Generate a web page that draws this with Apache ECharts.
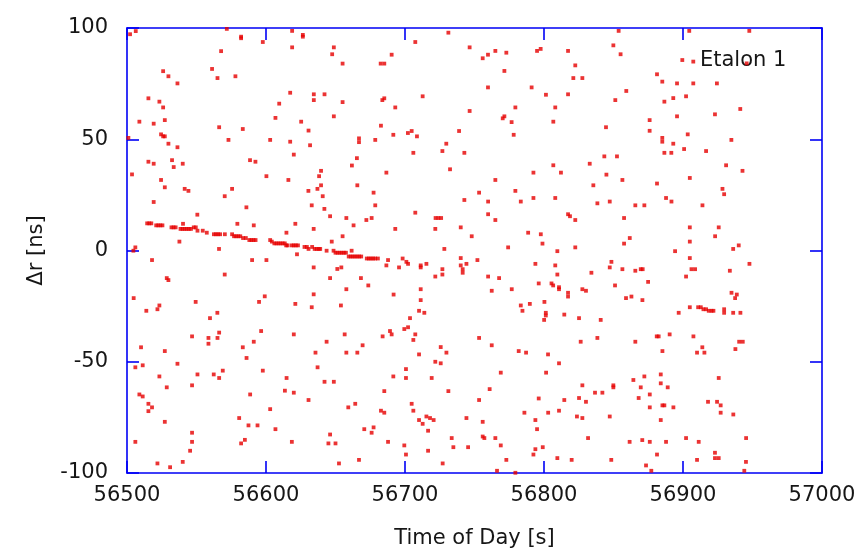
<!DOCTYPE html>
<html>
<head>
<meta charset="utf-8">
<script src="https://cdn.jsdelivr.net/npm/echarts@6/dist/echarts.min.js"></script>
<style>
  html, body { margin: 0; padding: 0; background: #fff; }
  #chart { width: 859px; height: 555px; }
</style>
</head>
<body>
<div id="chart"></div>
<script>
// Etalon 1 range residuals, [time of day (s), delta r (ns)]
const xTicks = [56500, 57000, 100]
const yTicks = [-100, 100, 50]

// scattered returns (noise)
const noiseUpper = [
  [56502.2,97.2],[56506.3,98.6],[56571.8,99.6],[56582.1,96.1],[56582.1,95.4],[56597.7,93.7],[56618.8,98.7],[56626.5,96.9],[56626.5,96.1],[56618.8,91.3],[56648.8,91.3],[56647.6,88.2],[56567.7,89.6],[56526.0,80.6],[56529.8,78.3],[56536.3,75.1],[56561.2,81.6],[56565.1,77.5],[56578.0,78.3],[56499.6,68.4],[56515.4,68.4],[56523.3,66.9],[56526.0,64.3],[56617.4,70.9],[56634.4,70.2],[56642.1,70.2],[56634.4,67.6],[56609.5,66.0],[56648.8,60.3],[56508.9,57.9],[56519.2,57.0],[56527.2,58.6],[56566.3,55.4],[56583.3,54.6],[56606.8,59.6],[56625.3,57.9],[56630.6,53.9],[56524.5,52.2],[56526.0,51.3],[56527.2,51.3],[56501.0,50.6],[56529.8,48.0],[56536.3,46.4],[56573.0,49.7],[56603.0,49.7],[56617.4,48.9],[56631.7,47.3],[56620.0,43.1],[56515.4,39.9],[56519.2,39.0],[56532.4,40.6],[56533.6,37.5],[56540.1,39.0],[56588.5,40.6],[56592.4,39.9],
  [56731.2,97.9],[56707.4,93.7],[56746.5,91.3],[56690.4,88.0],[56655.1,84.0],[56682.5,84.0],[56685.1,84.0],[56755.9,86.4],[56759.7,88.0],[56765.0,89.7],[56772.9,88.9],[56771.5,80.7],[56795.0,89.7],[56797.6,90.6],[56759.7,73.3],[56791.1,73.3],[56801.4,70.0],[56655.1,66.7],[56683.7,67.6],[56685.1,68.4],[56693.0,64.3],[56712.7,69.3],[56746.5,62.7],[56779.4,64.3],[56771.5,60.3],[56770.3,59.4],[56776.7,57.7],[56682.7,56.1],[56666.9,50.4],[56666.9,48.7],[56678.6,49.7],[56691.6,52.0],[56702.1,52.8],[56704.8,53.7],[56708.6,51.3],[56738.9,53.7],[56778.2,52.0],[56729.7,48.0],[56726.9,44.7],[56742.7,43.9],[56706.0,43.9],[56665.4,41.5],[56661.8,38.2],[56732.4,36.5],
  [56853.7,98.7],[56904.5,98.7],[56947.7,98.7],[56849.9,92.2],[56855.1,88.2],[56817.3,89.7],[56822.5,83.2],[56821.1,77.5],[56827.6,77.5],[56817.3,70.2],[56808.1,64.3],[56806.7,57.9],[56859.2,71.7],[56851.3,67.6],[56844.6,55.4],[56899.5,85.6],[56907.4,84.9],[56881.3,79.2],[56885.1,75.9],[56895.7,75.1],[56907.4,75.1],[56924.4,75.1],[56902.2,69.3],[56893.0,68.5],[56886.6,66.9],[56941.2,63.6],[56923.0,61.2],[56895.7,60.3],[56876.0,58.6],[56876.0,53.8],[56903.4,52.2],[56885.1,50.6],[56885.1,48.9],[56893.0,48.0],[56934.8,49.7],[56900.8,45.6],[56886.6,43.9],[56891.6,43.9],[56916.6,44.7],[56843.4,42.3],[56852.5,42.3],[56806.7,38.3],[56832.9,39.0],[56931.0,38.3],[56945.8,84.1]
]

const noiseMiddle = [
  [56503.6,34.2],[56499.6,19.6],[56524.5,31.7],[56527.2,28.4],[56519.2,21.8],[56541.5,27.7],[56544.2,26.8],[56570.3,24.4],[56575.6,27.7],[56550.6,16.1],[56585.9,19.4],[56600.3,33.4],[56616.1,31.7],[56638.2,33.4],[56639.6,35.8],[56639.6,29.3],[56637.0,27.7],[56630.5,26.8],[56640.8,24.4],[56632.9,20.3],[56642.0,18.7],[56646.1,15.4],[56634.3,9.7],[56647.3,4.0],[56621.1,12.0],[56614.7,8.0],[56591.2,11.3],[56579.4,12.0],[56540.3,12.0],[56537.7,4.0],[56566.2,0.7],[56506.0,1.4],[56504.6,-0.1],[56518.0,-4.3],[56590.0,-4.3],[56600.3,-4.3],[56622.3,-1.7],[56634.3,-7.6],[56651.3,-8.3],[56646.1,-12.4],[56528.6,-12.4],[56529.8,-13.3],[56570.3,-10.8],[56504.8,-21.4],[56513.9,-27.1],[56521.9,-26.4],[56523.3,-24.7],[56549.4,-23.1],[56559.7,-30.4],[56565.0,-28.0],[56595.0,-23.1],[56599.1,-20.6],[56621.1,-24.0],[56632.9,-25.5],[56634.3,-19.7],
  [56686.6,-6.7],[56695.7,-7.6],[56698.3,-3.6],[56701.0,-5.1],[56702.2,-6.0],[56711.3,-6.7],[56711.3,-7.6],[56715.4,-6.0],[56721.8,-11.7],[56726.9,-8.4],[56726.9,-10.8],[56728.3,0.7],[56740.1,-3.4],[56740.1,-6.7],[56741.5,-8.4],[56741.5,-10.0],[56744.2,-6.0],[56752.1,-4.3],[56759.8,-11.7],[56767.7,-12.4],[56762.4,-18.1],[56776.8,-17.4],[56774.2,1.4],[56793.8,-6.0],[56796.2,-14.8],[56805.4,-14.8],[56806.6,-15.7],[56783.3,-24.7],[56784.5,-27.1],[56789.8,-24.0],[56800.3,-23.1],[56801.3,-28.0],[56801.3,-29.2],[56800.1,-31.2],[56686.6,35.0],[56792.4,35.0],[56765.0,31.7],[56665.7,29.3],[56677.4,26.0],[56678.6,20.3],[56753.3,26.0],[56779.4,26.8],[56742.7,22.7],[56759.8,22.0],[56783.3,22.0],[56792.4,23.6],[56707.4,17.0],[56759.8,16.3],[56765.0,13.7],[56657.8,14.6],[56663.0,11.3],[56672.2,13.7],[56676.0,14.6],[56693.0,9.7],[56721.8,9.7],[56722.0,14.6],[56724.0,14.6],[56726.0,14.6],[56740.1,10.4],[56748.0,6.4],[56655.1,6.4],[56788.6,8.0],[56797.7,7.3],[56798.9,3.1],[56668.3,-12.4],[56673.6,-15.7],[56657.8,-17.4],[56653.9,-24.7],[56691.8,-19.8],[56711.3,-17.4],[56711.3,-22.3],[56710.1,-27.1],[56713.9,-28.0],[56703.6,-30.4],[56654.2,-7.6],[56687.8,-4.3],
  [56812.2,35.0],[56844.9,34.1],[56835.5,29.3],[56856.4,31.7],[56881.3,30.1],[56904.9,32.6],[56942.8,35.8],[56808.1,23.6],[56838.4,21.2],[56847.3,22.0],[56865.7,20.3],[56872.2,20.3],[56887.8,23.6],[56891.7,22.0],[56914.0,20.3],[56928.4,27.7],[56929.6,25.3],[56817.3,16.3],[56818.7,15.4],[56822.5,13.7],[56857.6,14.6],[56904.9,10.4],[56925.7,10.4],[56923.1,6.4],[56861.7,5.6],[56857.6,3.1],[56904.9,4.0],[56809.6,-0.3],[56822.5,1.4],[56894.3,-0.3],[56936.1,0.7],[56940.1,2.3],[56808.1,-6.7],[56809.6,-10.8],[56848.5,-5.1],[56847.3,-7.6],[56856.4,-8.4],[56865.7,-9.1],[56869.6,-8.4],[56871.0,-8.4],[56834.1,-10.0],[56874.9,-14.1],[56904.9,-3.4],[56906.1,-8.4],[56908.7,-8.4],[56902.2,-11.7],[56933.7,-9.1],[56947.8,-6.0],[56810.8,-16.5],[56810.8,-17.4],[56817.3,-19.0],[56817.3,-20.7],[56827.6,-17.4],[56830.2,-18.1],[56851.1,-15.7],[56859.0,-21.4],[56862.9,-20.7],[56870.8,-22.3],[56814.6,-28.8],[56825.2,-30.4],[56840.8,-31.2],[56896.9,-28.0],[56904.9,-25.5],[56929.6,-26.4],[56929.6,-28.0],[56936.1,-28.0],[56941.3,-28.0],[56934.9,-19.0],[56938.7,-19.8],[56937.5,-21.4]
]

const noiseLower = [
  [56510.1,-43.5],[56527.2,-45.2],[56546.8,-38.6],[56558.6,-39.3],[56558.6,-41.9],[56565.1,-39.3],[56566.3,-36.9],[56596.5,-36.2],[56620.0,-37.7],[56591.2,-41.0],[56583.3,-43.5],[56586.0,-48.3],[56643.6,-41.0],[56635.6,-45.9],[56506.0,-52.5],[56511.3,-51.6],[56536.3,-50.9],[56523.3,-56.6],[56528.6,-61.5],[56550.7,-55.7],[56562.4,-55.7],[56566.3,-57.3],[56568.9,-54.0],[56546.8,-60.6],[56597.7,-54.0],[56614.8,-57.3],[56637.1,-52.5],[56642.1,-59.0],[56648.8,-59.0],[56508.9,-64.7],[56511.3,-65.6],[56515.4,-68.9],[56518.0,-70.5],[56515.4,-72.2],[56588.6,-64.7],[56613.6,-63.0],[56620.0,-63.9],[56630.6,-67.2],[56603.0,-71.3],[56527.2,-77.0],[56580.7,-75.3],[56587.4,-78.6],[56593.9,-78.6],[56606.8,-80.3],[56546.8,-81.9],[56546.8,-86.0],[56545.4,-90.0],[56506.0,-86.0],[56582.1,-86.7],[56584.8,-85.1],[56618.6,-86.0],[56646.1,-82.7],[56644.9,-86.7],[56650.0,-86.7],[56521.9,-95.7],[56531.0,-97.4],[56540.1,-95.0],
  [56656.6,-37.7],[56657.8,-45.9],[56665.7,-45.9],[56669.5,-42.6],[56683.9,-38.6],[56689.2,-36.2],[56690.4,-37.7],[56699.5,-35.3],[56702.2,-34.5],[56707.4,-37.7],[56706.0,-40.2],[56710.1,-46.7],[56725.7,-43.4],[56729.8,-45.9],[56721.8,-50.0],[56725.7,-50.7],[56753.3,-39.3],[56762.4,-42.6],[56781.8,-45.2],[56787.1,-45.9],[56802.9,-46.7],[56700.7,-53.3],[56700.7,-57.3],[56691.6,-56.6],[56685.1,-63.2],[56719.2,-57.3],[56768.9,-54.9],[56801.5,-54.9],[56731.2,-63.2],[56760.9,-62.3],[56753.3,-67.2],[56796.2,-66.5],[56659.2,-70.5],[56664.2,-68.9],[56682.7,-72.0],[56685.1,-72.9],[56704.8,-68.9],[56706.0,-72.0],[56710.1,-76.2],[56712.7,-77.9],[56715.4,-74.6],[56718.0,-75.3],[56720.6,-76.2],[56716.6,-81.0],[56744.2,-75.3],[56755.9,-77.0],[56785.9,-72.9],[56793.8,-76.2],[56795.0,-80.3],[56803.0,-72.9],[56670.7,-80.3],[56677.4,-79.5],[56676.0,-81.9],[56687.8,-86.0],[56699.5,-87.6],[56700.7,-91.7],[56733.6,-84.3],[56734.8,-88.4],[56745.4,-88.4],[56755.9,-83.6],[56757.1,-84.3],[56765.0,-84.3],[56768.9,-87.6],[56772.9,-94.1],[56766.2,-99.0],[56779.4,-99.9],[56799.1,-88.4],[56793.8,-89.3],[56792.4,-91.7],[56652.5,-95.7],[56666.9,-94.1],[56727.1,-95.7],[56716.6,-90.0],
  [56826.4,-41.0],[56838.4,-39.3],[56865.7,-41.0],[56881.1,-38.6],[56882.5,-38.6],[56890.4,-37.7],[56907.5,-38.6],[56913.9,-43.5],[56910.1,-45.9],[56915.4,-45.9],[56885.2,-45.2],[56940.4,-41.0],[56943.0,-41.0],[56937.7,-44.3],[56810.8,-50.7],[56827.6,-60.6],[56836.7,-63.9],[56842.0,-63.9],[56849.9,-60.6],[56849.9,-61.5],[56814.6,-67.2],[56825.2,-66.3],[56830.2,-68.0],[56810.8,-72.0],[56823.7,-74.6],[56827.6,-75.3],[56847.3,-74.6],[56864.3,-58.2],[56872.2,-56.6],[56869.6,-61.5],[56876.1,-64.7],[56868.1,-66.3],[56884.0,-55.7],[56884.0,-59.7],[56889.0,-61.5],[56876.1,-70.5],[56885.2,-69.6],[56886.6,-69.6],[56893.1,-70.5],[56884.0,-76.2],[56925.7,-57.3],[56918.0,-68.0],[56924.5,-68.0],[56927.1,-69.6],[56927.1,-72.9],[56936.2,-73.7],[56831.7,-84.3],[56861.6,-86.0],[56870.7,-85.2],[56876.1,-86.0],[56887.8,-86.0],[56902.2,-84.3],[56911.3,-86.0],[56945.4,-84.3],[56809.6,-93.3],[56819.9,-94.1],[56848.4,-94.1],[56881.3,-91.7],[56873.4,-96.6],[56877.2,-99.0],[56910.1,-94.1],[56923.0,-90.9],[56923.0,-93.3],[56925.7,-93.3],[56945.3,-95.0],[56944.1,-99.0]
]

// the satellite track (drifting residual) and the short track near -26 ns
const track = [
  [56514.5,12.2],[56516,12.2],[56517.5,12.2],[56521,11.3],[56522.5,11.3],[56524,11.3],[56525.5,11.3],[56532,10.4],[56533.5,10.4],[56535,10.4],[56538.5,9.7],[56540,9.7],[56541.5,9.7],[56543,9.7],[56544.5,9.7],[56546,9.7],[56548,10.4],[56549.5,10.4],[56550.7,8.9],[56554.5,8.9],[56557.4,8.0],[56562.5,7.3],[56564,7.3],[56565.5,7.3],[56567,7.3],[56570.4,7.3],[56575.6,7.3],[56577,6.4],[56578.5,6.4],[56580,6.4],[56581.5,6.4],[56583.5,5.6],[56585.5,5.6],[56588,4.7],[56589.5,4.7],[56591,4.7],[56592.5,4.7],[56603,4.7],[56604.2,4.0],[56606,3.2],[56607.5,3.2],[56609,3.2],[56610.5,3.2],[56612,3.2],[56613.5,3.2],[56614.5,2.3],[56615.5,2.3],[56618.5,2.3],[56620,2.3],[56621.5,2.3],[56623,2.3],[56627.7,1.6],[56629.4,1.6],[56630.6,0.7],[56633.2,1.6],[56635,0.7],[56636.5,0.7],[56638,0.7],[56639,0.7],[56643.6,-0.1],[56648.6,-0.1],[56650,-1.0],[56651.5,-1.0],[56653,-1.0],[56654.5,-1.0],[56656,-1.0],[56657.5,-1.0],[56661.6,-0.1],[56659.5,-2.7],[56661,-2.7],[56662.5,-2.7],[56664,-2.7],[56665.5,-2.7],[56667,-2.7],[56668.5,-2.7],[56672.5,-3.6],[56674,-3.6],[56675.5,-3.6],[56677,-3.6],[56678.5,-3.6],[56680.5,-3.6]
]
const track2 = [
  [56910.9,-25.5],[56912.8,-25.5],[56914.7,-26.4],[56916.6,-26.4],[56918.5,-27.1],[56920.5,-27.1],[56921.9,-27.1]
]

const label = 'Etalon 1'
const blue = '#0000f5'
const ink = '#161616'
const font = 'DejaVu Sans'

const allPoints = noiseUpper.concat(noiseMiddle, noiseLower, track, track2)

const axisBase = (show) => ({
  axisLine: { show: true, onZero: false, lineStyle: { color: blue, width: 1.6 } },
  axisTick: { show: true, inside: true, length: 12, lineStyle: { color: blue, width: 1.6 } },
  splitLine: { show: false },
  axisLabel: { show: show }
})

const chart = echarts.init(document.getElementById('chart'), null, { renderer: 'canvas' })
chart.setOption({
  animation: false,
  grid: { left: 127, right: 37, top: 28, bottom: 82 },
  xAxis: [
    {
      type: 'value', position: 'bottom',
      min: xTicks[0], max: xTicks[1], interval: xTicks[2],
      name: 'Time of Day [s]', nameLocation: 'middle', nameGap: 55,
      nameTextStyle: { color: ink, fontSize: 21, fontFamily: font },
      ...axisBase(true),
      axisLabel: { color: ink, fontSize: 21, fontFamily: font, margin: 12, formatter: v => String(v) }
    },
    {
      type: 'value', position: 'top',
      min: xTicks[0], max: xTicks[1], interval: xTicks[2],
      ...axisBase(false)
    }
  ],
  yAxis: [
    {
      type: 'value', position: 'left',
      min: yTicks[0], max: yTicks[1], interval: yTicks[2],
      name: 'Δr [ns]', nameLocation: 'middle', nameGap: 80,
      nameTextStyle: { color: ink, fontSize: 21, fontFamily: font },
      ...axisBase(true),
      axisLabel: { color: ink, fontSize: 21, fontFamily: font, margin: 19, formatter: v => String(v) }
    },
    {
      type: 'value', position: 'right',
      min: yTicks[0], max: yTicks[1], interval: yTicks[2],
      ...axisBase(false)
    }
  ],
  graphic: [
    {
      type: 'text', left: 700, top: 50,
      style: { text: label, fill: ink, font: '21px "DejaVu Sans"' }
    }
  ],
  series: [
    {
      type: 'scatter',
      xAxisIndex: 0, yAxisIndex: 0,
      symbol: 'rect',
      symbolSize: 3.8,
      itemStyle: { color: '#e60000' },
      data: allPoints
    }
  ]
})
</script>
</body>
</html>
